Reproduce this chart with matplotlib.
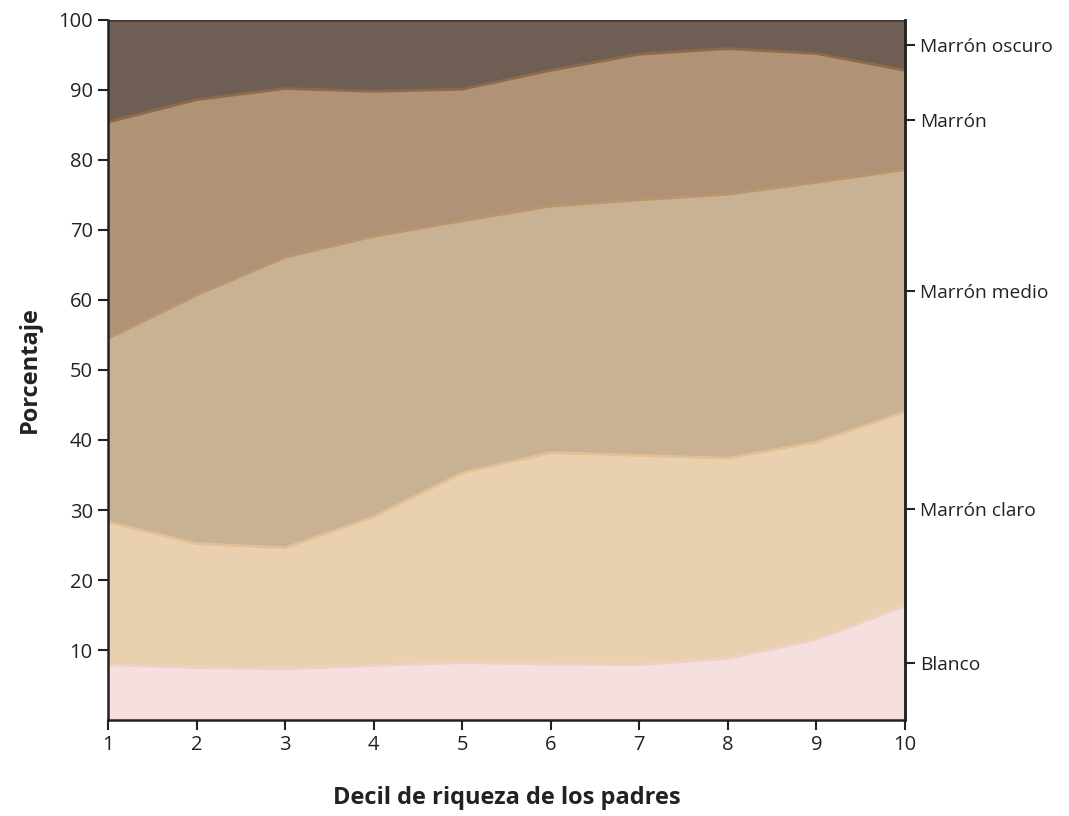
import matplotlib
matplotlib.use("Agg")
import matplotlib.pyplot as plt
import numpy as np

plt.rcParams['font.family'] = ['Open Sans', 'DejaVu Sans']

deciles = [1, 2, 3, 4, 5, 6, 7, 8, 9, 10]
categories = ["Blanco", "Marrón claro", "Marrón medio", "Marrón", "Marrón oscuro"]
# cumulative top boundaries
top_blanco = [7.9, 7.5, 7.3, 7.8, 8.2, 8.0, 7.9, 8.8, 11.5, 16.3]
top_claro = [28.3, 25.2, 24.6, 29.0, 35.3, 38.2, 37.8, 37.4, 39.7, 44.0]
top_medio = [54.5, 60.7, 66.1, 69.1, 71.3, 73.4, 74.3, 75.1, 76.8, 78.6]
top_marron = [85.4, 88.6, 90.2, 89.8, 90.1, 92.8, 95.1, 95.9, 95.2, 92.8]
top_oscuro = [100] * 10

fill_colors = ["#F5DFDF", "#E9D1B0", "#C9B194", "#B09376", "#6F5E54"]
edge_colors = ["#EFCFC8", "#E2C094", "#B8976F", "#8E6A48", "#4A3A32"]

fig = plt.figure(figsize=(10.69, 8.16), dpi=100)
ax = fig.add_axes([0.101, 0.1176, 0.7456, 0.858])

tops = [top_blanco, top_claro, top_medio, top_marron, top_oscuro]
prev = np.zeros(len(deciles))
for i, t in enumerate(tops):
    t = np.array(t, dtype=float)
    ax.fill_between(deciles, prev, t, facecolor=fill_colors[i], edgecolor='none', zorder=1)
    ax.plot(deciles, t, color=edge_colors[i], lw=2.0, zorder=2 + i * 0.01, solid_capstyle='butt')
    prev = t

ax.set_xlim(1, 10)
ax.set_ylim(0, 100)
ax.set_xticks(deciles)
ax.set_yticks(range(10, 101, 10))
ax.tick_params(axis='both', direction='out', length=7, width=1.5, labelsize=14.5, color='#222222', labelcolor='#222222', pad=4)

for s in ['left', 'bottom', 'right']:
    ax.spines[s].set_linewidth(1.8)
    ax.spines[s].set_color('#222222')
ax.spines['top'].set_visible(False)

# right-side labels at midpoints of last column
ax2 = ax.twinx()
ax2.set_ylim(0, 100)
prev_last = 0
mids = []
for t in tops:
    mids.append((prev_last + t[-1]) / 2)
    prev_last = t[-1]
ax2.set_yticks(mids)
ax2.set_yticklabels(categories)
ax2.tick_params(axis='y', direction='out', length=7, width=1.5, labelsize=13.8, color='#222222', labelcolor='#222222', pad=4)
for s in ['left', 'bottom', 'top']:
    ax2.spines[s].set_visible(False)
ax2.spines['right'].set_linewidth(1.8)
ax2.spines['right'].set_color('#222222')

ax.set_ylabel("Porcentaje", fontsize=17, fontweight='bold', labelpad=12, color='#222222')
ax.set_xlabel("Decil de riqueza de los padres", fontsize=17, fontweight='bold', labelpad=22, color='#222222')

fig.savefig("out.png", dpi=100)
